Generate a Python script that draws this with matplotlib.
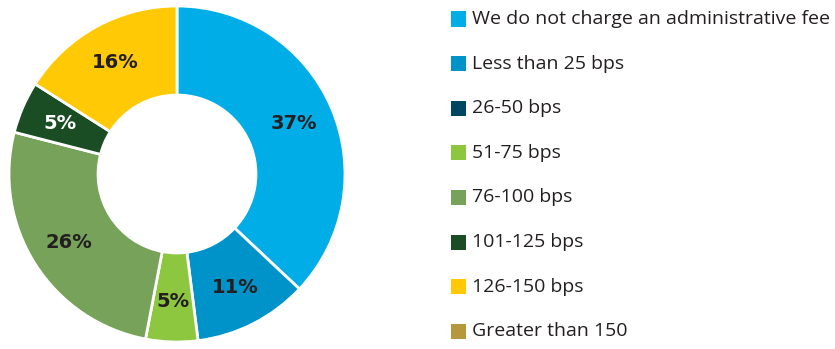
import numpy as np
import matplotlib.pyplot as plt
from matplotlib.patches import Rectangle

categories = [
    "We do not charge an administrative fee",
    "Less than 25 bps",
    "26-50 bps",
    "51-75 bps",
    "76-100 bps",
    "101-125 bps",
    "126-150 bps",
    "Greater than 150",
]
shares = [37, 11, 0, 5, 26, 5, 16, 0]
colors = ["#00ade6", "#0093c9", "#00465f", "#8dc63f",
          "#77a25a", "#1b4d24", "#ffc905", "#b6983c"]
label_colors = ["#231f20", "#231f20", "#ffffff", "#231f20",
                "#231f20", "#ffffff", "#231f20", "#231f20"]

W, H = 835, 349
fig = plt.figure(figsize=(W / 100, H / 100), dpi=100)

# donut: center (177, 174) px, outer radius 168 px
cx, cy, r = 177, 174, 168
half = 172
ax = fig.add_axes([(cx - half) / W, (H - cy - half) / H, 2 * half / W, 2 * half / H])

shown = [i for i, v in enumerate(shares) if v > 0]
wedges, _ = ax.pie(
    [shares[i] for i in shown],
    colors=[colors[i] for i in shown],
    startangle=90,
    counterclock=False,
    radius=1,
    wedgeprops=dict(width=0.53, edgecolor="white", linewidth=2),
)
ax.set_xlim(-half / r, half / r)
ax.set_ylim(-half / r, half / r)
ax.set_aspect("equal")
ax.axis("off")

for w, i in zip(wedges, shown):
    mid = np.deg2rad((w.theta1 + w.theta2) / 2)
    d = 0.76
    ax.text(d * np.cos(mid), d * np.sin(mid), f"{shares[i]}%",
            ha="center", va="center", fontsize=14, fontweight="heavy",
            color=label_colors[i], family="DejaVu Sans")

# legend on the right
x0, y0, step, sq = 451, 19, 44.6, 15
for k, (name, col) in enumerate(zip(categories, colors)):
    yc = y0 + k * step
    fig.patches.append(Rectangle((x0 / W, (H - yc - sq / 2) / H), sq / W, sq / H,
                                 transform=fig.transFigure, facecolor=col,
                                 edgecolor="none"))
    fig.text((x0 + sq + 6) / W, (H - yc) / H, name, ha="left", va="center",
             fontsize=14, color="#231f20", family="Open Sans")

fig.savefig("out.png", dpi=100, facecolor="white")
